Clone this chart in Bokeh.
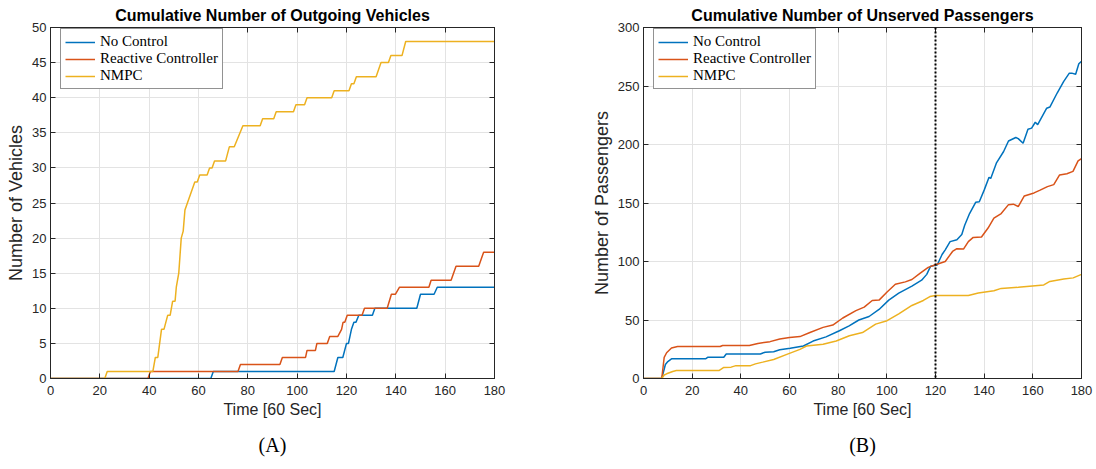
from bokeh.plotting import figure
from bokeh.models import (Range1d, FixedTicker, LinearAxis, Legend, LegendItem,
                          Span, Title)
from bokeh.layouts import row
from bokeh.embed import file_html
from bokeh.resources import INLINE

# ---------------- data: panel A (cumulative outgoing vehicles) ----------------
a_nmpc_x = [0, 22, 23, 41.5, 42.5, 43.5, 45, 46, 47.5, 48.5, 49.5, 50.5, 51, 52, 53, 53.8,
            54.5, 55.5, 57, 58.5, 59.5, 60.5, 63.5, 64.5, 65.5, 66.5, 71, 72.5, 74.5, 78, 85,
            86, 90.5, 91.5, 98.5, 99.5, 103, 104, 114, 115, 121, 122, 123, 124, 132, 134,
            137, 138, 142.5, 144, 180]
a_nmpc_y = [0, 0, 1, 1, 3, 3, 7, 7, 9, 9, 11, 11, 13, 15, 20, 21,
            24, 25, 26.5, 28, 28, 29, 29, 30, 30, 31, 31, 33, 33, 36, 36,
            37, 37, 38, 38, 39, 39, 40, 40, 41, 41, 42, 42, 43, 43, 45,
            45, 46, 46, 48, 48]

a_react_x = [0, 39.5, 40.5, 76, 77, 93, 94, 103.4, 104, 107.4, 108, 112.2, 113.2, 116.5,
             118, 118.6, 119.3, 120.3, 126.3, 127.3, 136.5, 138.2, 139.8, 141.5, 153.4,
             154.3, 162.4, 164.4, 173.6, 175.6, 180]
a_react_y = [0, 0, 1, 1, 2, 2, 3, 3, 4, 4, 5, 5, 6, 6,
             7, 8, 8, 9, 9, 10, 10, 12, 12, 13, 13,
             14, 14, 16, 16, 18, 18]

a_noctl_x = [0, 65, 66, 115, 116.5, 118.5, 120, 120.8, 122, 123, 123.8, 125, 130.5, 131.5,
             148.5, 150, 155.5, 156.8, 180]
a_noctl_y = [0, 0, 1, 1, 3, 3, 5, 5, 7, 8, 8, 9, 9, 10,
             10, 12, 12, 13, 13]

# ---------------- data: panel B (cumulative unserved passengers) ----------------
b_noctl_x = [0, 7.5, 9, 10, 11.5, 25.5, 26.5, 33, 34, 48, 50, 53.5, 56, 60.3, 65.7, 69.7,
             75, 80.5, 84.5, 88.5, 92.7, 96.8, 100.8, 104.9, 110.3, 114.3, 116.4, 118, 120.7,
             122.7, 124, 126, 128.8, 130.8, 132, 134, 136.5, 138, 140, 142, 142.7, 145, 148,
             150, 153, 154, 156, 158, 159.5, 161, 162, 165.7, 167, 170, 172.7, 175, 176,
             177.6, 178.9, 180]
b_noctl_y = [0, 0, 12, 14.5, 16.8, 16.8, 18.2, 18.2, 21, 21, 22.5, 22.9, 24.5, 25.8, 27.8, 32,
             35.6, 40.8, 45, 50, 53, 59, 67, 73, 79, 84, 89, 96, 97,
             106, 110, 117, 118.6, 123, 131, 141, 150.6, 151, 161, 172, 171, 184, 194,
             203, 206, 205, 201, 213, 214, 219, 217, 231, 232, 244, 254, 261, 261,
             260, 269, 271]

b_react_x = [0, 7.5, 8.5, 9.5, 11.5, 14, 31.5, 32.5, 43.5, 47, 52, 56, 60, 64.3, 68.4, 73.8,
             77.8, 81.9, 87.3, 90.7, 94, 96.8, 100.1, 103.5, 107.6, 110.3, 113.6, 117, 119.7,
             124, 127, 128.8, 131.5, 133.5, 135.5, 138.9, 141.6, 144, 147, 150, 152, 154,
             156.5, 160.5, 163, 166, 168.6, 171, 174, 176.5, 178.6, 180]
b_react_y = [0, 0, 18, 22, 26, 27.3, 27.3, 28.2, 28.2, 30, 31.5, 33.8, 35, 35.8, 39.3, 43.7,
             45.7, 51.7, 58, 61, 66.7, 67, 73.9, 80.5, 82.6, 84.6, 89.8, 95, 97,
             100, 108.6, 111, 110.6, 117, 120.6, 121, 128.6, 137, 141, 148.6, 149, 147,
             156, 158.6, 161, 164, 165.7, 174, 175, 177, 186, 188]

b_nmpc_x = [0, 7.5, 8.5, 9.5, 12, 13.5, 31, 33, 36, 38, 44, 46, 49, 53.5, 58.9, 64.3, 67,
            73.8, 79.2, 84.6, 90, 95.4, 100.1, 104.9, 110.3, 115, 117.7, 120, 133.5, 137.6,
            144, 147, 154, 164.5, 167, 172.7, 176.6, 180]
b_nmpc_y = [0, 0, 3, 4, 6, 6.8, 6.8, 9.5, 9.7, 11, 11, 12.5, 14, 16.3, 20.6, 24.9, 27.8,
            29.3, 32.1, 36.5, 39.3, 46.5, 49.4, 55.2, 62.4, 66.7, 70, 71, 71, 73,
            75, 77, 78, 80, 83, 85, 86, 89]

switch_time = 120

x_ticks = [0, 20, 40, 60, 80, 100, 120, 140, 160, 180]
a_y_ticks = [0, 5, 10, 15, 20, 25, 30, 35, 40, 45, 50]
b_y_ticks = [0, 50, 100, 150, 200, 250, 300]

series_names = ["No Control", "Reactive Controller", "NMPC"]
series_colors = ["#0072BD", "#D95319", "#EDB120"]

AX = "#262626"
SANS = "Liberation Sans"
SERIF = "Liberation Serif"


def style_axis(ax, ticks, show_labels=True, standoff=6):
    ax.ticker = FixedTicker(ticks=ticks)
    ax.axis_line_color = AX
    ax.major_tick_line_color = AX
    ax.major_tick_in = 5
    ax.major_tick_out = 0
    ax.minor_tick_line_color = None
    ax.major_label_text_font = SANS
    if show_labels:
        ax.major_label_text_color = AX
        ax.major_label_text_font_size = "13px"
        ax.major_label_standoff = standoff
    else:
        ax.major_label_text_color = None
        ax.major_label_text_font_size = "1px"
        ax.major_label_standoff = 0
    ax.axis_label_text_font = SANS
    ax.axis_label_text_font_style = "normal"
    ax.axis_label_text_color = AX
    ax.axis_label_text_font_size = "16px"


def make_panel(title, ylabel, caption, yticks, ymax, series, bl, br, width, vline=None):
    p = figure(width=width, height=469, output_backend="svg", toolbar_location=None,
               x_range=Range1d(0, 180), y_range=Range1d(0, ymax),
               min_border_left=bl, min_border_right=br, min_border_top=27,
               min_border_bottom=91)
    p.title.text = title
    p.title.text_font = SANS
    p.title.text_font_size = "16px"
    p.title.text_font_style = "bold"
    p.title.text_color = "#000000"
    p.title.align = "center"
    p.title.offset = 0
    p.title.standoff = 8
    p.background_fill_color = "white"
    p.border_fill_color = "white"
    p.outline_line_color = AX

    style_axis(p.xaxis[0], x_ticks, standoff=7)
    style_axis(p.yaxis[0], yticks, standoff=4)
    p.xaxis[0].axis_label = "Time [60 Sec]"
    p.xaxis[0].axis_label_standoff = 3
    p.yaxis[0].axis_label = ylabel
    p.yaxis[0].axis_label_standoff = 3
    p.yaxis[0].axis_label_text_font_size = "18px"

    top = LinearAxis()
    style_axis(top, x_ticks, show_labels=False)
    p.add_layout(top, "above")
    right = LinearAxis()
    style_axis(right, yticks, show_labels=False)
    p.add_layout(right, "right")

    p.xgrid.ticker = FixedTicker(ticks=x_ticks)
    p.ygrid.ticker = FixedTicker(ticks=yticks)
    p.xgrid.grid_line_color = "#e3e3e3"
    p.ygrid.grid_line_color = "#e3e3e3"

    if vline is not None:
        p.add_layout(Span(location=vline, dimension="height", line_color="black",
                          line_width=2, line_dash="2 2"))

    items = []
    for name, color, (xs, ys) in zip(series_names, series_colors, series):
        r = p.line(xs, ys, line_color=color, line_width=1.5)
        items.append(LegendItem(label=name, renderers=[r]))

    leg = Legend(items=items, location=(10, 289), margin=0, padding=4, spacing=0,
                 glyph_width=30, glyph_height=16, label_height=16, label_standoff=5,
                 label_text_font=SERIF, label_text_font_size="15px",
                 label_text_color="#000000", border_line_color=AX, border_line_width=1,
                 background_fill_color="white", background_fill_alpha=1)
    p.add_layout(leg, "center")

    cap = Title(text=caption, align="center", text_font=SERIF, text_font_size="20px",
                text_font_style="normal", text_color="#000000", standoff=22)
    p.add_layout(cap, "below")
    return p


pa = make_panel("Cumulative Number of Outgoing Vehicles", "Number of Vehicles", "(A)",
                a_y_ticks, 50,
                [(a_noctl_x, a_noctl_y), (a_react_x, a_react_y), (a_nmpc_x, a_nmpc_y)],
                50, 94, 588)
pb = make_panel("Cumulative Number of Unserved Passengers", "Number of Passengers", "(B)",
                b_y_ticks, 300,
                [(b_noctl_x, b_noctl_y), (b_react_x, b_react_y), (b_nmpc_x, b_nmpc_y)],
                50, 15, 508, vline=switch_time)

layout = row(pa, pb)
open("out.html", "w").write(file_html(layout, INLINE))
